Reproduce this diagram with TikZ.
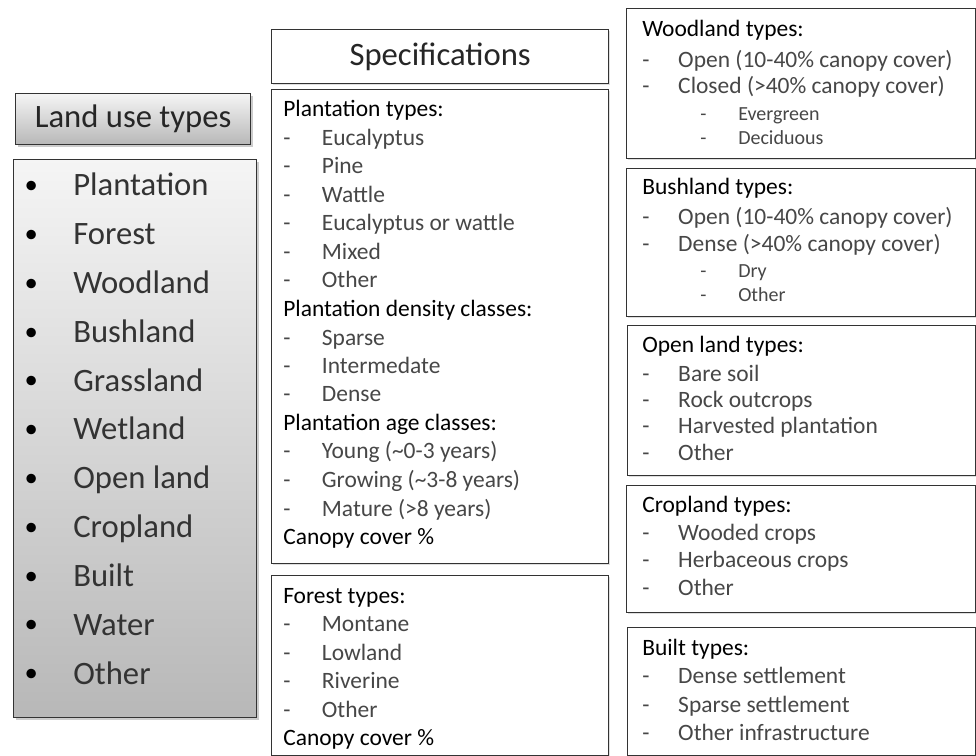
\documentclass[tikz,border=0pt]{standalone}
\usepackage{fontspec}
\setmainfont{Carlito}
\usetikzlibrary{shadows}

\definecolor{itemgray}{gray}{0.28}
\definecolor{framegray}{gray}{0.2}

\newcommand{\luitem}[1]{\makebox[37.5pt][l]{\hspace*{1pt}\raisebox{1.8pt}{\fontsize{20}{20}\selectfont\textcolor{black}{\textbullet}}}#1}
\newcommand{\spechead}[1]{\textcolor{black}{#1}}
\newcommand{\specitem}[1]{\textcolor{itemgray}{\makebox[29pt][l]{-}#1}}
\newcommand{\typeitem}[1]{\textcolor{itemgray}{\makebox[27pt][l]{-}#1}}
\newcommand{\typesub}[1]{\textcolor{itemgray}{\fontsize{15}{18}\selectfont\hspace*{43.5pt}\makebox[28.5pt][l]{-}#1}}

\begin{document}
\begin{tikzpicture}[x=0.75pt,y=-0.75pt,
	greybox/.style={draw=framegray, line width=1pt, top color=white!96!black, bottom color=white!72!black, anchor=north west, inner sep=0pt, drop shadow={shadow xshift=1.5pt, shadow yshift=-1.5pt, opacity=0.4}},
	specbox/.style={draw=framegray, line width=1pt, fill=white, anchor=north west, inner sep=0pt, drop shadow={shadow xshift=1pt, shadow yshift=-1pt, opacity=0.25}},
	bigtext/.style={font=\fontsize{24.5}{29}\selectfont},
	rowtext/.style={anchor=base west, inner sep=0pt, font=\fontsize{17.6}{21}\selectfont}]
	
	\useasboundingbox[fill=white] (0,0) rectangle (976,756);
	
	% left column
	\node[greybox, bigtext, text=black!85, minimum width=176.25pt, minimum height=38.25pt] (lutitle) at (15,93) {Land use types};
	\node[greybox, minimum width=182.25pt, minimum height=418.5pt] (lulist) at (13,159) {};
	\foreach \yy/\txt [count=\i] in {196/Plantation, 244.8/Forest, 293.6/Woodland, 342.4/Bushland, 391.2/Grassland, 440/Wetland, 488.8/Open land, 537.6/Cropland, 586.4/Built, 635.2/Water, 684/Other}
	\node[rowtext, bigtext, text=black!80] (lu-\i) at (23,\yy) {\luitem{\txt}};
	
	% middle column
	\node[specbox, bigtext, text=black!85, minimum width=252.75pt, minimum height=40.5pt] (spectitle) at (271,29) {Specifications};
	\node[specbox, minimum width=252.75pt, minimum height=355.5pt] (plantbox) at (271,89) {};
	\node[specbox, minimum width=252.75pt, minimum height=135pt] (forestbox) at (271,575) {};
	
	\foreach \yy/\txt [count=\i] in {117/\spechead{Plantation types:}, 145.5/\specitem{Eucalyptus}, 174/\specitem{Pine}, 202.5/\specitem{Wattle}, 231/\specitem{Eucalyptus or wattle}, 259.5/\specitem{Mixed}, 288/\specitem{Other}, 316.5/\spechead{Plantation density classes:}, 345/\specitem{Sparse}, 373.5/\specitem{Intermedate}, 402/\specitem{Dense}, 430.5/\spechead{Plantation age classes:}, 459/\specitem{Young (\textasciitilde0-3 years)}, 487.5/\specitem{Growing (\textasciitilde3-8 years)}, 516/\specitem{Mature (>8 years)}, 544.5/\spechead{Canopy cover \%}}
	\node[rowtext] (plant-\i) at (283,\yy) {\txt};
	
	\foreach \yy/\txt [count=\i] in {603/\spechead{Forest types:}, 631.5/\specitem{Montane}, 660/\specitem{Lowland}, 688.5/\specitem{Riverine}, 717/\specitem{Other}, 745.5/\spechead{Canopy cover \%}}
	\node[rowtext] (forest-\i) at (283,\yy) {\txt};
	
	% right column
	\node[specbox, minimum width=261.75pt, minimum height=112.5pt] (woodbox) at (626,8) {};
	\node[specbox, minimum width=261.75pt, minimum height=111pt] (bushbox) at (626,168) {};
	\node[specbox, minimum width=261pt, minimum height=112.5pt] (openbox) at (627,325) {};
	\node[specbox, minimum width=261.75pt, minimum height=95.25pt] (cropbox) at (626,485) {};
	\node[specbox, minimum width=261pt, minimum height=96pt] (builtbox) at (627,627) {};
	
	\foreach \yy/\txt [count=\i] in {37/\spechead{Woodland types:}, 68/\typeitem{Open (10-40\% canopy cover)}, 94/\typeitem{Closed (>40\% canopy cover)}, 121/\typesub{Evergreen}, 145/\typesub{Deciduous}}
	\node[rowtext] (wood-\i) at (642,\yy) {\txt};
	
	\foreach \yy/\txt [count=\i] in {195/\spechead{Bushland types:}, 225/\typeitem{Open (10-40\% canopy cover)}, 252/\typeitem{Dense (>40\% canopy cover)}, 278/\typesub{Dry}, 302/\typesub{Other}}
	\node[rowtext] (bush-\i) at (642,\yy) {\txt};
	
	\foreach \yy/\txt [count=\i] in {353/\spechead{Open land types:}, 382/\typeitem{Bare soil}, 407/\typeitem{Rock outcrops}, 433/\typeitem{Harvested plantation}, 460/\typeitem{Other}}
	\node[rowtext] (open-\i) at (642,\yy) {\txt};
	
	\foreach \yy/\txt [count=\i] in {512/\spechead{Cropland types:}, 540/\typeitem{Wooded crops}, 567/\typeitem{Herbaceous crops}, 595/\typeitem{Other}}
	\node[rowtext] (crop-\i) at (642,\yy) {\txt};
	
	\foreach \yy/\txt [count=\i] in {655/\spechead{Built types:}, 683/\typeitem{Dense settlement}, 712/\typeitem{Sparse settlement}, 740/\typeitem{Other infrastructure}}
	\node[rowtext] (built-\i) at (642,\yy) {\txt};
	
\end{tikzpicture}
\end{document}
